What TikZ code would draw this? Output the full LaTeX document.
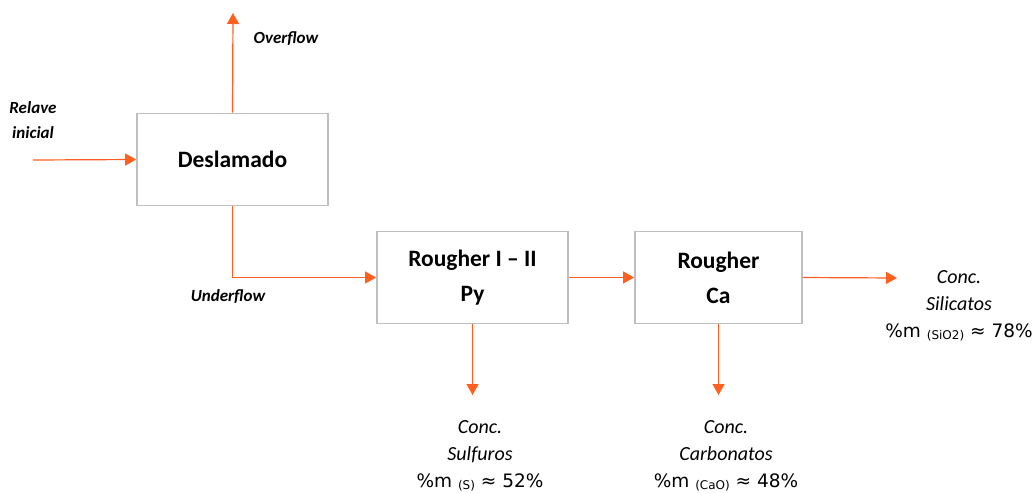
\documentclass[tikz,border=0pt]{standalone}
\usepackage{fontspec}
\setmainfont{Carlito}
\newfontfamily\anchafont{DejaVu Sans}
\usetikzlibrary{arrows.meta}

\definecolor{flujo}{RGB}{255,95,31}
\definecolor{borde}{RGB}{191,191,191}

\tikzset{
  etapa/.style={draw=borde, line width=1.8pt, fill=white, minimum height=92pt, align=center, font=\fontsize{23.5}{35}\selectfont\bfseries},
  corriente/.style={draw=flujo, line width=1.2pt, -{Triangle[length=11pt,width=12pt]}},
  rotulo/.style={font=\fontsize{17}{25}\selectfont\bfseries\itshape, align=center},
  producto/.style={font=\fontsize{20}{27}\selectfont\itshape, align=center},
}

\newcommand{\ley}[2]{{\upshape\anchafont\fontsize{18.5}{27}\selectfont\%m {\fontsize{12}{12}\selectfont\raisebox{-0.35ex}{(#1)}} ≈ #2\%}}

\begin{document}
\begin{tikzpicture}[x=1pt,y=-1pt]
    \useasboundingbox (0,0) rectangle (1033,493);

    \node[etapa, minimum width=191pt] at (232.5,159.5) (Des) {Deslamado};
    \node[etapa, minimum width=191pt] at (472.5,277.5) (RPy) {Rougher I – II\\Py};
    \node[etapa, minimum width=167pt] at (718.5,277.5) (RCa) {Rougher\\Ca};

    \coordinate (relin) at (33,160);
    \coordinate (over) at (233,13);
    \coordinate (pyout) at (472.5,395);
    \coordinate (caout) at (718.5,395);
    \coordinate (siout) at (897,278);

    \node[rotulo] at (33,120) (Rel) {Relave\\inicial};
    \node[rotulo] at (286,39) (Ovf) {Overflow};
    \node[rotulo] at (228,297) (Udf) {Underflow};

    \node[producto] at (480,456) (CPy) {Conc.\\Sulfuros\\\ley{S}{52}};
    \node[producto] at (726,456) (CCa) {Conc.\\Carbonatos\\\ley{CaO}{48}};
    \node[producto] at (959,306) (CSi) {Conc.\\Silicatos\\\ley{SiO2}{78}};

    \draw[corriente] (relin) -- (Des.west);
    \draw[corriente] (Des.north) -- (over);
    \draw[corriente] (Des.south) |- (RPy.west);
    \draw[corriente] (RPy.east) -- (RCa.west);
    \draw[corriente] (RPy.south) -- (pyout);
    \draw[corriente] (RCa.south) -- (caout);
    \draw[corriente] (RCa.east) -- (siout);
\end{tikzpicture}
\end{document}
